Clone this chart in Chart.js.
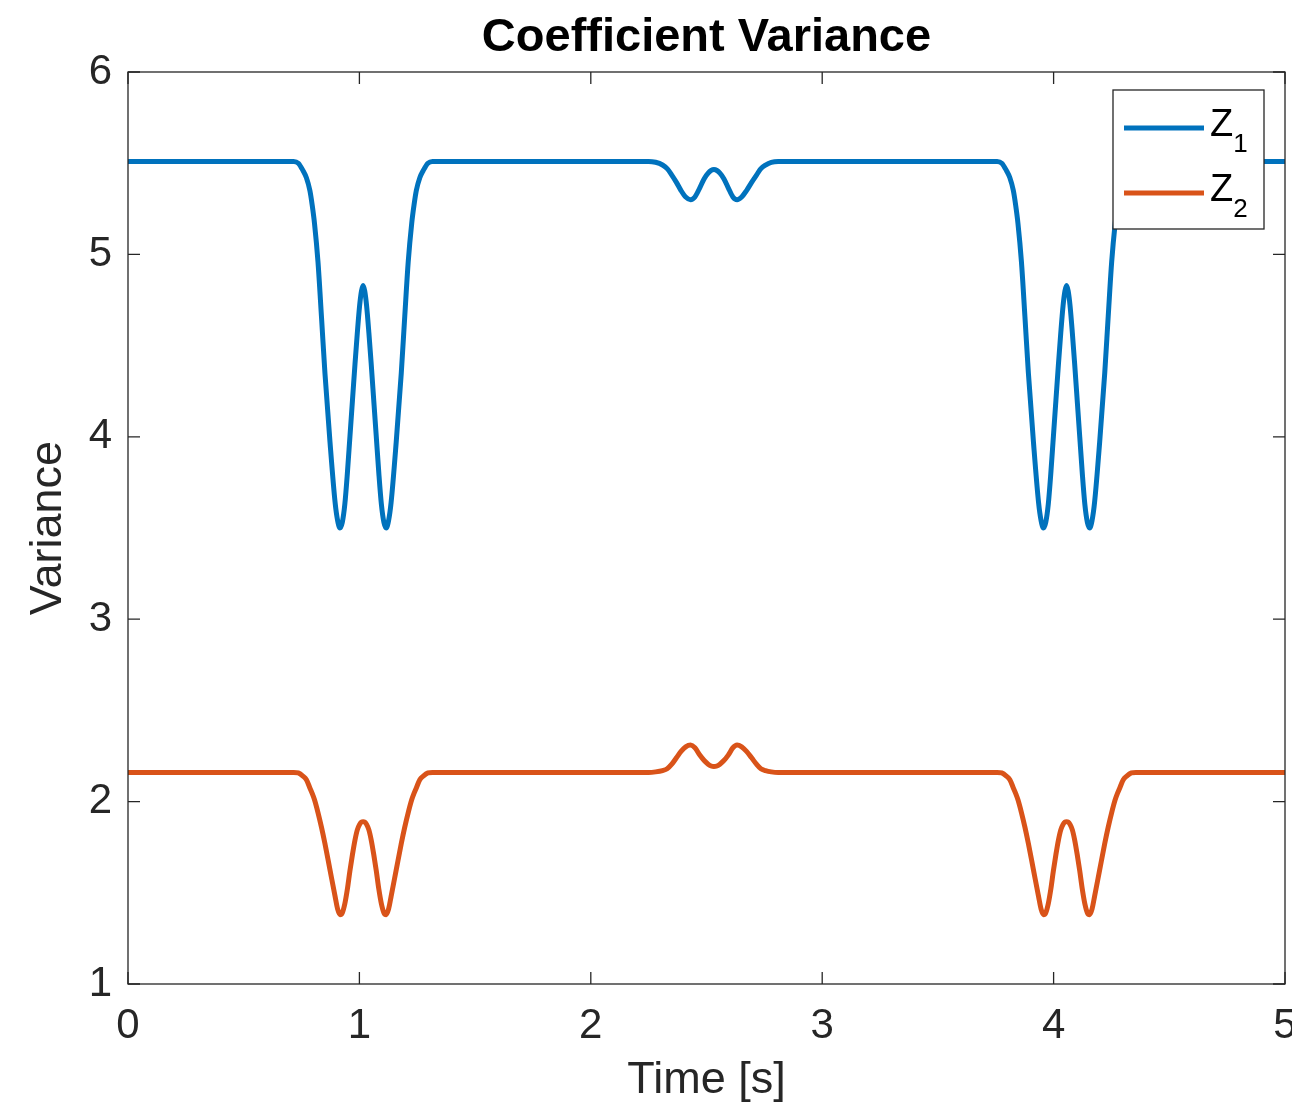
<!DOCTYPE html>
<html>
<head>
<meta charset="utf-8">
<title>Coefficient Variance</title>
<script src="https://cdn.jsdelivr.net/npm/chart.js@4.4.1/dist/chart.umd.min.js"></script>
<style>
  html, body { margin: 0; padding: 0; background: #fff; }
</style>
</head>
<body>
<canvas id="wykres" width="1292" height="1106"></canvas>
<script>
// time axis [s] - denser around the dips
const czas = [
  0, 0.35,
  0.716, 0.736, 0.756, 0.771, 0.786, 0.796, 0.806, 0.821, 0.836, 0.851, 0.873, 0.895,
  0.906, 0.916, 0.926, 0.937, 0.948, 0.959, 0.970, 0.981, 0.991, 1.001, 1.009, 1.016,
  1.023, 1.031, 1.041, 1.051, 1.062, 1.073, 1.084, 1.095, 1.106, 1.116, 1.126, 1.137,
  1.159, 1.181, 1.196, 1.211, 1.226, 1.236, 1.246, 1.261, 1.276, 1.296, 1.316,
  1.75,
  2.20, 2.25, 2.28, 2.31, 2.33, 2.35, 2.37, 2.39, 2.41, 2.431, 2.45, 2.471, 2.49, 2.507, 2.52, 2.532,
  2.545, 2.558, 2.575, 2.594, 2.614, 2.632, 2.652, 2.673, 2.695, 2.716, 2.735, 2.755, 2.78, 2.81, 2.85,
  3.3,
  3.756, 3.776, 3.796, 3.811, 3.826, 3.836, 3.846, 3.861, 3.876, 3.891, 3.913, 3.935,
  3.946, 3.956, 3.966, 3.977, 3.988, 3.999, 4.010, 4.021, 4.031, 4.041, 4.049, 4.056,
  4.063, 4.071, 4.081, 4.091, 4.102, 4.113, 4.124, 4.135, 4.146, 4.156, 4.166, 4.177,
  4.199, 4.221, 4.236, 4.251, 4.266, 4.276, 4.286, 4.301, 4.316, 4.336, 4.356,
  4.7, 5.0
]

// variance of Z1
const z1 = [
  5.51, 5.51,
  5.51, 5.50, 5.46, 5.42, 5.35, 5.27, 5.17, 4.96, 4.66, 4.35, 3.97, 3.64,
  3.54, 3.50, 3.53, 3.63, 3.80, 4.00, 4.20, 4.40, 4.57, 4.72, 4.80, 4.83,
  4.80, 4.72, 4.57, 4.40, 4.20, 4.00, 3.80, 3.63, 3.53, 3.50, 3.54, 3.64,
  3.97, 4.35, 4.66, 4.96, 5.17, 5.27, 5.35, 5.42, 5.46, 5.50, 5.51,
  5.51,
  5.51, 5.51, 5.505, 5.49, 5.47, 5.435, 5.395, 5.35, 5.315, 5.30, 5.315, 5.365, 5.415, 5.445, 5.46, 5.465,
  5.46, 5.445, 5.415, 5.365, 5.315, 5.30, 5.315, 5.35, 5.395, 5.435, 5.47, 5.49, 5.505, 5.51, 5.51,
  5.51,
  5.51, 5.50, 5.46, 5.42, 5.35, 5.27, 5.17, 4.96, 4.66, 4.35, 3.97, 3.64,
  3.54, 3.50, 3.53, 3.63, 3.80, 4.00, 4.20, 4.40, 4.57, 4.72, 4.80, 4.83,
  4.80, 4.72, 4.57, 4.40, 4.20, 4.00, 3.80, 3.63, 3.53, 3.50, 3.54, 3.64,
  3.97, 4.35, 4.66, 4.96, 5.17, 5.27, 5.35, 5.42, 5.46, 5.50, 5.51,
  5.51, 5.51
]

// variance of Z2
const z2 = [
  2.16, 2.16,
  2.16, 2.157, 2.14, 2.12, 2.075, 2.045, 2.01, 1.94, 1.86, 1.77, 1.625, 1.48,
  1.41, 1.38, 1.39, 1.44, 1.52, 1.62, 1.71, 1.79, 1.845, 1.875, 1.888, 1.89,
  1.888, 1.875, 1.845, 1.79, 1.71, 1.62, 1.52, 1.44, 1.39, 1.38, 1.41, 1.48,
  1.625, 1.77, 1.86, 1.94, 2.01, 2.045, 2.075, 2.12, 2.14, 2.157, 2.16,
  2.16,
  2.16, 2.16, 2.163, 2.17, 2.18, 2.205, 2.24, 2.275, 2.30, 2.31, 2.295, 2.255, 2.225, 2.205, 2.195, 2.192,
  2.195, 2.205, 2.225, 2.255, 2.295, 2.31, 2.30, 2.275, 2.24, 2.205, 2.18, 2.17, 2.163, 2.16, 2.16,
  2.16,
  2.16, 2.157, 2.14, 2.12, 2.075, 2.045, 2.01, 1.94, 1.86, 1.77, 1.625, 1.48,
  1.41, 1.38, 1.39, 1.44, 1.52, 1.62, 1.71, 1.79, 1.845, 1.875, 1.888, 1.89,
  1.888, 1.875, 1.845, 1.79, 1.71, 1.62, 1.52, 1.44, 1.39, 1.38, 1.41, 1.48,
  1.625, 1.77, 1.86, 1.94, 2.01, 2.045, 2.075, 2.12, 2.14, 2.157, 2.16,
  2.16, 2.16
]

const xTicks = [0, 1, 2, 3, 4, 5]
const yTicks = [1, 2, 3, 4, 5, 6]
const nazwy = ['Z', 'Z']
const indeksy = ['1', '2']
const kolory = ['#0072BD', '#D95319']

const czcionka = '"Liberation Sans", Arial, Helvetica, sans-serif'
const szary = '#262626'

// box round the plot, inward ticks on all four sides, and the legend on top
const ramka = {
  id: 'ramka',
  afterDraw(chart) {
    const ctx = chart.ctx
    const a = chart.chartArea
    const x = chart.scales.x
    const y = chart.scales.y
    const dl = 12
    ctx.save()
    ctx.strokeStyle = szary
    ctx.lineWidth = 1.3
    ctx.strokeRect(a.left, a.top, a.right - a.left, a.bottom - a.top)
    ctx.beginPath()
    x.ticks.forEach(t => {
      const px = x.getPixelForValue(t.value)
      ctx.moveTo(px, a.bottom); ctx.lineTo(px, a.bottom - dl)
      ctx.moveTo(px, a.top); ctx.lineTo(px, a.top + dl)
    })
    y.ticks.forEach(t => {
      const py = y.getPixelForValue(t.value)
      ctx.moveTo(a.left, py); ctx.lineTo(a.left + dl, py)
      ctx.moveTo(a.right, py); ctx.lineTo(a.right - dl, py)
    })
    ctx.stroke()

    // legend
    const lx = 1113, ly = 90, lw = 151, lh = 139
    ctx.fillStyle = '#fff'
    ctx.fillRect(lx, ly, lw, lh)
    ctx.strokeRect(lx, ly, lw, lh)
    chart.data.datasets.forEach((ds, i) => {
      const yy = 128 + i * 65
      ctx.strokeStyle = ds.borderColor
      ctx.lineWidth = 5
      ctx.beginPath()
      ctx.moveTo(1124, yy)
      ctx.lineTo(1204, yy)
      ctx.stroke()
      ctx.fillStyle = '#000'
      ctx.textBaseline = 'alphabetic'
      ctx.textAlign = 'left'
      ctx.font = '38px ' + czcionka
      ctx.fillText(nazwy[i], 1210, yy + 8)
      const w = ctx.measureText(nazwy[i]).width
      ctx.font = '26px ' + czcionka
      ctx.fillText(indeksy[i], 1210 + w, yy + 24)
    })
    ctx.restore()
  }
}

const data = {
  datasets: [
    {
      label: 'Z1',
      data: czas.map((t, i) => ({ x: t, y: z1[i] })),
      borderColor: kolory[0],
      borderWidth: 5,
      pointRadius: 0,
      cubicInterpolationMode: 'monotone',
      fill: false
    },
    {
      label: 'Z2',
      data: czas.map((t, i) => ({ x: t, y: z2[i] })),
      borderColor: kolory[1],
      borderWidth: 5,
      pointRadius: 0,
      cubicInterpolationMode: 'monotone',
      fill: false
    }
  ]
}

const chart = new Chart(document.getElementById('wykres'), {
  type: 'line',
  data: data,
  plugins: [ramka],
  options: {
    responsive: false,
    animation: false,
    layout: { padding: { left: 0, right: 7, top: 0, bottom: 0 } },
    plugins: {
      legend: { display: false },
      tooltip: { enabled: false },
      title: {
        display: true,
        fullSize: false,
        text: 'Coefficient Variance',
        color: '#000',
        font: { family: czcionka, size: 47, weight: 'bold', lineHeight: 1.2 },
        padding: { top: 10, bottom: 5.6 }
      }
    },
    scales: {
      x: {
        type: 'linear',
        min: 0,
        max: 5,
        grid: { display: false, drawTicks: false },
        border: { display: false },
        afterBuildTicks: s => { s.ticks = xTicks.map(v => ({ value: v })) },
        afterFit: s => { s.height = 122; s.paddingLeft = 0; s.paddingRight = 0 },
        ticks: {
          color: szary,
          font: { family: czcionka, size: 42, lineHeight: 1.2 },
          padding: 17,
          maxRotation: 0,
          autoSkip: false
        },
        title: {
          display: true,
          text: 'Time [s]',
          color: szary,
          font: { family: czcionka, size: 45, lineHeight: 1.15 },
          padding: { top: 0, bottom: 0 }
        }
      },
      y: {
        type: 'linear',
        min: 1,
        max: 6,
        grid: { display: false, drawTicks: false },
        border: { display: false },
        afterBuildTicks: s => { s.ticks = yTicks.map(v => ({ value: v })) },
        afterFit: s => { s.width = 128; s.paddingTop = 0; s.paddingBottom = 0 },
        ticks: {
          color: szary,
          font: { family: czcionka, size: 42, lineHeight: 1.2 },
          padding: 16
        },
        title: {
          display: true,
          text: 'Variance',
          color: szary,
          font: { family: czcionka, size: 45, lineHeight: 1.2 },
          padding: { top: 22, bottom: 0 }
        }
      }
    }
  }
})
</script>
</body>
</html>
